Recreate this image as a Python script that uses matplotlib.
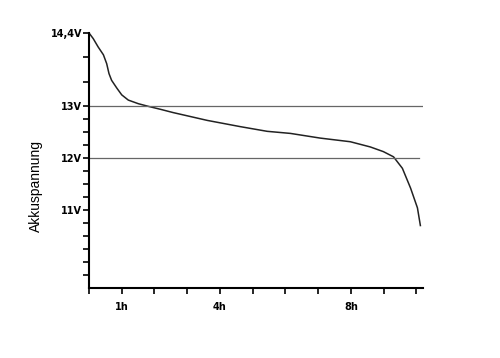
import matplotlib
matplotlib.use("Agg")
import matplotlib.pyplot as plt

stunden = [0.0, 0.13, 0.28, 0.44, 0.54, 0.61, 0.69, 0.85, 1.00, 1.20, 1.51,
           1.81, 2.20, 2.57, 3.61, 4.62, 5.44, 6.15, 7.06, 7.98, 8.59, 8.99,
           9.30, 9.57, 9.82, 10.03, 10.12]
spannung = [14.4, 14.29, 14.13, 13.98, 13.81, 13.62, 13.49, 13.34, 13.21, 13.11,
            13.04, 12.99, 12.93, 12.87, 12.72, 12.60, 12.51, 12.47, 12.38, 12.31,
            12.21, 12.12, 12.02, 11.80, 11.42, 11.04, 10.70]

y_ticks = [14.4, 13, 12, 11]
y_labels = ["14,4V", "13V", "12V", "11V"]
y_minor = [13.467, 13.933, 12.25, 12.5, 12.75, 11.25, 11.5, 11.75,
           10.75, 10.5, 10.25, 10.0, 9.75]
x_ticks = [0, 1, 2, 3, 4, 5, 6, 7, 8, 9, 10]
x_labels = ["", "1h", "", "", "4h", "", "", "", "8h", "", ""]
linien = [13, 12]
linien_ende = [10.22, 10.07]

fig = plt.figure(figsize=(5, 3.58), dpi=100)
ax = fig.add_axes([0.178, 0.1955, 0.668, 0.7125])

ax.plot(stunden, spannung, color="#222222", lw=1.1)
for v, e in zip(linien, linien_ende):
    ax.plot([0, e], [v, v], color="#666666", lw=0.9)

ax.set_xlim(0, 10.2)
ax.set_ylim(9.5, 14.4)
ax.set_yticks(y_ticks)
ax.set_yticklabels(y_labels, fontsize=7, fontweight="bold", family="DejaVu Sans")
ax.set_yticks(y_minor, minor=True)
ax.set_xticks(x_ticks)
ax.set_xticklabels(x_labels, fontsize=7, fontweight="bold", family="DejaVu Sans")
ax.tick_params(axis="both", which="both", direction="out", length=4, width=1.2, pad=1)
ax.tick_params(axis="x", pad=6)

for s in ["top", "right"]:
    ax.spines[s].set_visible(False)
for s in ["left", "bottom"]:
    ax.spines[s].set_linewidth(1.5)

ax.set_ylabel("Akkuspannung", fontsize=10, family="Liberation Sans")
ax.yaxis.set_label_coords(-0.138, 0.40)

fig.savefig("out.png", dpi=100)
